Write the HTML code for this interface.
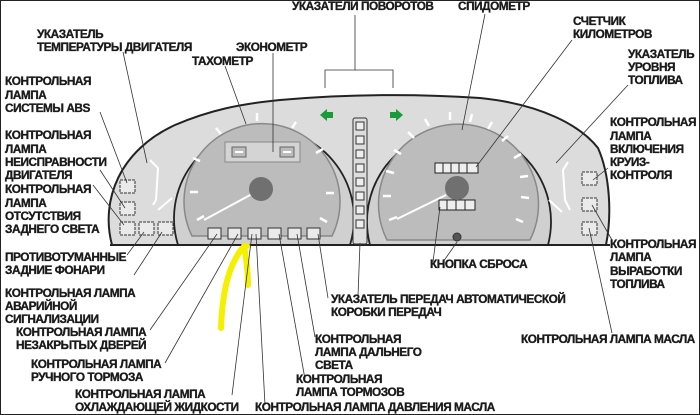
<!DOCTYPE html>
<html><head><meta charset="utf-8"><style>
html,body{margin:0;padding:0;background:#fff;}
svg{display:block;}
text{font-family:"Liberation Sans",sans-serif;font-weight:bold;font-size:11.8px;fill:#1a1a1a;stroke:#1a1a1a;stroke-width:0.35px;letter-spacing:-0.45px;}
</style></head><body>
<svg width="700" height="415" viewBox="0 0 700 415" xmlns="http://www.w3.org/2000/svg">
<rect x="0.5" y="0.5" width="699" height="414" fill="#fff" stroke="#222" stroke-width="1"/>
<path d="M112,245 C100,200 120,150 175,125 C210,110 240,104 280,100 C350,94 420,94 480,98 C540,104 580,125 598,148 C610,175 612,215 606,245 Z" fill="#dcdcdc" stroke="#222" stroke-width="2"/>
<path d="M178,245 A90,90 0 1 1 350,245 Z" fill="#d0d0d0" stroke="#222" stroke-width="1.8"/>
<path d="M370,245 A92,92 0 1 1 548,245 Z" fill="#d0d0d0" stroke="#222" stroke-width="1.8"/>
<path d="M192,236 A78,78 0 1 1 332,236 Z" fill="#bcbcbc" stroke="#888" stroke-width="1.5"/>
<path d="M387,240 A80,80 0 1 1 530,240 Z" fill="#bcbcbc" stroke="#888" stroke-width="1.5"/>
<line x1="110" y1="245" x2="610" y2="245" stroke="#222" stroke-width="2"/>
<g stroke="#fff" stroke-width="2.5">
<line x1="197" y1="220" x2="204" y2="216"/><line x1="190" y1="192" x2="198" y2="192"/><line x1="193" y1="158" x2="200" y2="161"/>
<line x1="216" y1="128" x2="221" y2="134"/><line x1="257" y1="113" x2="257" y2="121"/><line x1="296" y1="122" x2="292" y2="128"/>
<line x1="323" y1="149" x2="316" y2="153"/><line x1="334" y1="193" x2="326" y2="193"/><line x1="327" y1="222" x2="320" y2="218"/>
</g>
<rect x="225" y="142" width="75" height="20" fill="#d4d4d4" stroke="#888"/>
<rect x="232" y="147" width="14" height="10" fill="#bbb" stroke="#666"/><rect x="280" y="147" width="14" height="10" fill="#bbb" stroke="#666"/>
<line x1="235" y1="152" x2="243" y2="152" stroke="#fff" stroke-width="2"/><line x1="283" y1="152" x2="291" y2="152" stroke="#fff" stroke-width="2"/>
<line x1="204" y1="220" x2="252" y2="194" stroke="#fff" stroke-width="2"/>
<circle cx="261" cy="189" r="12" fill="#707070"/>
<g stroke="#fff" stroke-width="2.5">
<line x1="389" y1="220" x2="397" y2="217"/><line x1="383" y1="196" x2="391" y2="196"/><line x1="386" y1="171" x2="394" y2="173"/>
<line x1="394" y1="150" x2="401" y2="154"/><line x1="408" y1="132" x2="414" y2="138"/><line x1="425" y1="119" x2="429" y2="126"/>
<line x1="450" y1="112" x2="450" y2="120"/><line x1="472" y1="114" x2="470" y2="122"/><line x1="492" y1="122" x2="488" y2="129"/>
<line x1="508" y1="136" x2="502" y2="141"/><line x1="521" y1="154" x2="514" y2="158"/><line x1="528" y1="176" x2="520" y2="177"/>
<line x1="529" y1="198" x2="521" y2="197"/><line x1="523" y1="222" x2="516" y2="219"/>
</g>
<g fill="#eee" stroke="#222" stroke-width="1">
<rect x="435" y="163" width="8" height="10"/><rect x="443" y="163" width="8" height="10"/><rect x="451" y="163" width="8" height="10"/><rect x="459" y="163" width="8" height="10"/><rect x="467" y="163" width="11" height="10"/>
<rect x="439" y="200" width="8" height="10"/><rect x="447" y="200" width="9" height="10"/><rect x="456" y="200" width="9" height="10"/><rect x="465" y="200" width="10" height="10"/>
</g>
<line x1="397" y1="219" x2="446" y2="195" stroke="#fff" stroke-width="2"/>
<circle cx="457" cy="188" r="12" fill="#707070"/>
<circle cx="457" cy="237" r="4" fill="#555" stroke="#333"/>
<path d="M150,160 L158,168 L156,200 L153,205" fill="none" stroke="#fff" stroke-width="2"/>
<line x1="158" y1="210" x2="172" y2="198" stroke="#fff" stroke-width="2"/>
<path d="M568,162 L563,170 L565,200 L570,210" fill="none" stroke="#fff" stroke-width="2"/>
<line x1="549" y1="200" x2="562" y2="212" stroke="#fff" stroke-width="2"/>
<g fill="#eaeaea" stroke="#333" stroke-width="1" stroke-dasharray="3,1">
<rect x="120" y="180" width="15" height="13"/><rect x="120" y="202" width="15" height="13"/>
<rect x="120" y="222" width="15" height="13"/><rect x="139" y="222" width="15" height="13"/><rect x="158" y="222" width="15" height="13"/>
<rect x="582" y="172" width="15" height="13"/><rect x="582" y="198" width="15" height="13"/><rect x="582" y="222" width="15" height="13"/>
</g>
<g fill="#eaeaea" stroke="#333" stroke-width="1">
<rect x="208" y="228" width="13" height="11"/><rect x="228" y="228" width="13" height="11"/><rect x="248" y="228" width="13" height="11"/>
<rect x="268" y="228" width="13" height="11"/><rect x="288" y="228" width="13" height="11"/><rect x="307" y="228" width="13" height="11"/>
</g>
<rect x="353" y="118" width="14" height="126" rx="2" fill="#ddd" stroke="#333"/>
<g fill="#eee" stroke="#333">
<rect x="356" y="122" width="8" height="8"/><rect x="356" y="136" width="8" height="8"/><rect x="356" y="150" width="8" height="8"/><rect x="356" y="164" width="8" height="8"/>
<rect x="356" y="178" width="8" height="8"/><rect x="356" y="192" width="8" height="8"/><rect x="356" y="206" width="8" height="8"/><rect x="356" y="220" width="8" height="8"/>
</g>
<path d="M320,115 l7,-6 v3 h6 v6 h-6 v3 z" fill="#1a9a3a"/>
<path d="M403,115 l-7,-6 v3 h-6 v6 h6 v3 z" fill="#1a9a3a"/>
<path d="M221,328 C222,300 226,275 236,258 C240,250 244,246 247,246 M244,246 C246,258 248,270 248,285" fill="none" stroke="#f4f000" stroke-width="6" stroke-linecap="round"/>
<g stroke="#333" stroke-width="0.8" fill="none">
<polyline points="355,15 355,70 325,70 325,88"/><polyline points="355,70 393,70 393,88"/>
<line x1="485" y1="14" x2="462" y2="130"/>
<line x1="572" y1="40" x2="476" y2="167"/>
<line x1="628" y1="85" x2="556" y2="163"/>
<line x1="608" y1="168" x2="593" y2="180"/>
<line x1="612" y1="240" x2="592" y2="205"/>
<line x1="612" y1="333" x2="589" y2="228"/>
<line x1="443" y1="262" x2="457" y2="242"/>
<line x1="433" y1="262" x2="440" y2="207"/>
<line x1="328" y1="298" x2="318" y2="234"/>
<line x1="358" y1="296" x2="360" y2="243"/>
<line x1="315" y1="337" x2="297" y2="234"/>
<line x1="305" y1="379" x2="279" y2="234"/>
<line x1="265" y1="405" x2="256" y2="234"/>
<line x1="232" y1="395" x2="252" y2="234"/>
<line x1="165" y1="363" x2="238" y2="234"/>
<line x1="150" y1="330" x2="217" y2="234"/>
<line x1="134" y1="275" x2="162" y2="232"/>
<line x1="127" y1="255" x2="144" y2="232"/>
<line x1="93" y1="185" x2="124" y2="225"/>
<line x1="100" y1="170" x2="125" y2="208"/>
<line x1="100" y1="112" x2="127" y2="183"/>
<line x1="123" y1="52" x2="147" y2="163"/>
<line x1="273" y1="53" x2="273" y2="152"/>
<line x1="225" y1="66" x2="246" y2="124"/>
</g>
<text x="292" y="10">УКАЗАТЕЛИ ПОВОРОТОВ</text>
<text x="458" y="10">СПИДОМЕТР</text>
<text x="573" y="25">СЧЕТЧИК</text><text x="573" y="38">КИЛОМЕТРОВ</text>
<text x="628" y="58">УКАЗАТЕЛЬ</text><text x="628" y="71">УРОВНЯ</text><text x="628" y="84">ТОПЛИВА</text>
<text x="610" y="126">КОНТРОЛЬНАЯ</text><text x="610" y="140">ЛАМПА</text><text x="610" y="153">ВКЛЮЧЕНИЯ</text><text x="610" y="166">КРУИЗ-</text><text x="610" y="179">КОНТРОЛЯ</text>
<text x="610" y="248">КОНТРОЛЬНАЯ</text><text x="610" y="261">ЛАМПА</text><text x="610" y="275">ВЫРАБОТКИ</text><text x="610" y="288">ТОПЛИВА</text>
<text x="521" y="343">КОНТРОЛЬНАЯ ЛАМПА МАСЛА</text>
<text x="430" y="268">КНОПКА СБРОСА</text>
<text x="331" y="303">УКАЗАТЕЛЬ ПЕРЕДАЧ АВТОМАТИЧЕСКОЙ</text><text x="331" y="316">КОРОБКИ ПЕРЕДАЧ</text>
<text x="315" y="343">КОНТРОЛЬНАЯ</text><text x="315" y="356">ЛАМПА ДАЛЬНЕГО</text><text x="315" y="369">СВЕТА</text>
<text x="296" y="383">КОНТРОЛЬНАЯ</text><text x="296" y="396">ЛАМПА ТОРМОЗОВ</text>
<text x="255" y="411">КОНТРОЛЬНАЯ ЛАМПА ДАВЛЕНИЯ МАСЛА</text>
<text x="75" y="398">КОНТРОЛЬНАЯ ЛАМПА</text><text x="75" y="411">ОХЛАЖДАЮЩЕЙ ЖИДКОСТИ</text>
<text x="31" y="368">КОНТРОЛЬНАЯ ЛАМПА</text><text x="31" y="381">РУЧНОГО ТОРМОЗА</text>
<text x="16" y="336">КОНТРОЛЬНАЯ ЛАМПА</text><text x="16" y="349">НЕЗАКРЫТЫХ ДВЕРЕЙ</text>
<text x="5" y="297">КОНТРОЛЬНАЯ ЛАМПА</text><text x="5" y="310">АВАРИЙНОЙ</text><text x="5" y="323">СИГНАЛИЗАЦИИ</text>
<text x="5" y="261">ПРОТИВОТУМАННЫЕ</text><text x="5" y="274">ЗАДНИЕ ФОНАРИ</text>
<text x="37" y="38">УКАЗАТЕЛЬ</text><text x="37" y="51">ТЕМПЕРАТУРЫ ДВИГАТЕЛЯ</text>
<text x="236" y="51">ЭКОНОМЕТР</text>
<text x="192" y="65">ТАХОМЕТР</text>
<text x="5" y="85">КОНТРОЛЬНАЯ</text><text x="5" y="99">ЛАМПА</text><text x="5" y="112">СИСТЕМЫ ABS</text>
<text x="5" y="139">КОНТРОЛЬНАЯ</text><text x="5" y="153">ЛАМПА</text><text x="5" y="166">НЕИСПРАВНОСТИ</text><text x="5" y="179">ДВИГАТЕЛЯ</text>
<text x="5" y="193">КОНТРОЛЬНАЯ</text><text x="5" y="207">ЛАМПА</text><text x="5" y="220">ОТСУТСТВИЯ</text><text x="5" y="233">ЗАДНЕГО СВЕТА</text>
</svg>
</body></html>
